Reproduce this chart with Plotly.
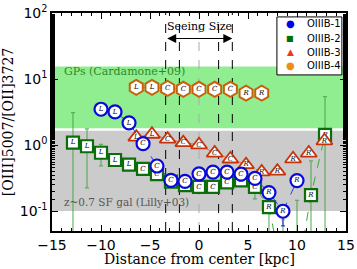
import plotly.graph_objects as go

# ---------------- data ----------------
b1_x = [-10.0, -8.57, -7.14, -5.71, -4.29, -2.86, -1.43, 0.0, 1.43, 2.86, 4.29, 5.71, 7.14, 8.57, 10.0]
b1_y = [3.49, 3.18, 2.17, 1.05, 0.482, 0.292, 0.282, 0.367, 0.389, 0.389, 0.363, 0.313, 0.191, 0.0996, 0.290]
b1_lab = ["L", "L", "L", "C", "C", "C", "C", "C", "C", "C", "C", "C", "R", "R", "R"]
b1_ep = [0.1, 0.1, 0.1, 0.03, 0.02, 0.01, 0.01, 0.01, 0.01, 0.01, 0.01, 0.01, 0.01, 0.01, 0.02]
b1_em = [0.1, 0.1, 0.1, 0.03, 0.02, 0.01, 0.01, 0.01, 0.01, 0.01, 0.01, 0.01, 0.02, 0.04, 0.02]

# the two points at 8.57 and 10 kpc lie below the plotted range (only their error bars show)
b2_x = [-12.86, -11.43, -10.0, -8.57, -7.14, -5.71, -4.29, -2.86, -1.43, 0.0, 1.43, 2.86, 4.29, 5.71, 7.14, 8.57, 10.0, 11.43, 12.86]
b2_y = [1.09, 0.96, 0.766, 0.594, 0.505, 0.435, 0.363, 0.279, 0.248, 0.233, 0.233, 0.273, 0.292, 0.233, 0.115, 0.01, 0.01, 0.175, 1.43]
b2_lab = ["L", "L", "L", "L", "L", "C", "C", "C", "C", "C", "C", "C", "C", "C", "R", "", "", "R", "R"]
b2_ep = [2.0, 0.8, 0.26, 0.03, 0.03, 0.03, 0.03, 0.03, 0.02, 0.02, 0.02, 0.03, 0.03, 0.02, 0.01, 0.064, 0.135, 0.40, 4.0]
b2_em = [1.08, 0.735, 0.28, 0.05, 0.03, 0.03, 0.03, 0.03, 0.02, 0.04, 0.03, 0.03, 0.04, 0.08, 0.11, 0.005, 0.005, 0.17, 1.42]

b3_x = [-6.4, -4.8, -3.2, -1.6, 0.0, 1.6, 3.2, 4.8, 6.4, 8.0, 9.6, 11.2, 12.8]
b3_y = [1.32, 1.46, 1.23, 1.09, 1.01, 0.757, 0.615, 0.505, 0.392, 0.403, 0.62, 0.757, 1.16]
b3_lab = ["L", "L", "C", "C", "C", "C", "C", "R", "R", "R", "R", "R", "R"]

b4_x = [-6.4, -4.8, -3.2, -1.6, 0.0, 1.6, 3.2, 4.8, 6.4]
b4_y = [7.5, 7.5, 7.2, 7.0, 7.0, 7.0, 7.0, 6.1, 6.1]
b4_lab = ["L", "L", "C", "C", "C", "C", "C", "R", "R"]
b4_em = [0.9, 0.1, 0.1, 0.1, 0.1, 0.1, 0.1, 0.1, 0.1]

legend_names = ["OIIIB-1", "OIIIB-2", "OIIIB-3", "OIIIB-4"]

seeing_inner = 2.0
seeing_outer = 3.4

gp_band = (1.8, 15.5)
sf_band = (0.1, 1.65)

# ---------------- figure ----------------
fig = go.Figure()

lab_font = dict(family="DejaVu Serif", size=7, color="black", style="italic")


def series(x, y, lab, sym, size, edge, lw, linecol, ep=None, em=None, ecol=None):
    err = None
    if ep is not None or em is not None:
        err = dict(type="data", symmetric=False,
                   array=ep if ep is not None else [0] * len(x),
                   arrayminus=em if em is not None else [0] * len(x),
                   color=ecol, thickness=1.2, width=2)
    fig.add_trace(go.Scatter(
        x=x, y=y, text=lab, mode="lines+markers+text",
        textposition="middle center", textfont=lab_font,
        line=dict(color=linecol, width=1, dash="dash"),
        marker=dict(symbol=sym, size=size, color="white",
                    line=dict(color=edge, width=lw)),
        error_y=err, showlegend=False, hoverinfo="skip"))


series(b2_x, b2_y, b2_lab, "square", 12, "#0b6e0b", 2.2, "#3aa83a",
       b2_ep, b2_em, "rgba(60,160,60,0.75)")
series(b3_x, b3_y, b3_lab, "triangle-up", 14, "#c8320a", 1.8, "#f06a3a")
series(b4_x, b4_y, b4_lab, "hexagon", 15, "#c8600a", 2.0, "#e07a20",
       None, b4_em, "#e88a20")
series(b1_x, b1_y, b1_lab, "circle", 13, "#0a0ad8", 2.2, "#3040e0",
       b1_ep, b1_em, "#3040e0")

shapes = [
    dict(type="rect", xref="paper", yref="y", x0=0, x1=1,
         y0=gp_band[0], y1=gp_band[1], fillcolor="#90ee90",
         line=dict(width=0), layer="below"),
    dict(type="rect", xref="paper", yref="y", x0=0, x1=1,
         y0=sf_band[0], y1=sf_band[1], fillcolor="#cbcbcb",
         line=dict(width=0), layer="below"),
]
for xv in [-seeing_outer, -seeing_inner, seeing_inner, seeing_outer]:
    shapes.append(dict(type="line", xref="x", yref="paper", x0=xv, x1=xv,
                       y0=0, y1=1, line=dict(color="black", width=1, dash="dash"),
                       layer="below"))
shapes.append(dict(type="line", xref="x", yref="paper", x0=0, x1=0, y0=0, y1=1,
                   line=dict(color="#aaaaaa", width=1, dash="dash"), layer="below"))

# legend box (drawn manually to match the compact reference legend)
shapes.append(dict(type="rect", xref="paper", yref="paper", x0=0.765, x1=0.986,
                   y0=0.716, y1=0.982, fillcolor="white",
                   line=dict(color="black", width=1), layer="above"))

annotations = [
    dict(x=seeing_outer, y=1.614, ax=-seeing_outer, ay=1.614, xref="x", yref="y",
         axref="x", ayref="y", showarrow=True, arrowside="end+start",
         arrowhead=2, arrowsize=1.5, arrowwidth=1.2, arrowcolor="black", text=""),
    dict(x=0, y=1.80, xref="x", yref="y", text="Seeing Size", showarrow=False,
         font=dict(family="DejaVu Serif", size=11, color="black")),
    dict(x=-14.0, y=1.107, xref="x", yref="y", text="GPs (Cardamone+09)",
         showarrow=False, xanchor="left",
         font=dict(family="DejaVu Serif", size=11, color="#2a8a2a")),
    dict(x=-14.0, y=-0.866, xref="x", yref="y", text="z~0.7 SF gal (Lilly+03)",
         showarrow=False, xanchor="left",
         font=dict(family="DejaVu Serif", size=10.5, color="#555555")),
    # x-axis title
    dict(x=0.5, y=0, xref="paper", yref="paper", yanchor="top", yshift=-18,
         text="Distance from center [kpc]", showarrow=False,
         font=dict(family="DejaVu Serif", size=14, color="black")),
]

leg_cols = ["#0000ee", "#007000", "#ee3a10", "#f08c1c"]
leg_glyph = ["●", "■", "▲", "●"]
leg_gsize = [10, 8, 9, 10]
leg_y = [0.950, 0.885, 0.821, 0.757]
for name, col, g, gs, yy in zip(legend_names, leg_cols, leg_glyph, leg_gsize, leg_y):
    annotations.append(dict(x=0.810, y=yy, xref="paper", yref="paper", text=g,
                            showarrow=False, xanchor="center", yanchor="middle",
                            font=dict(family="DejaVu Sans", size=gs, color=col)))
    annotations.append(dict(x=0.862, y=yy, xref="paper", yref="paper", text=name,
                            showarrow=False, xanchor="left", yanchor="middle",
                            font=dict(family="DejaVu Sans", size=10, color="black")))

axis_common = dict(showline=True, linecolor="black", linewidth=1.5, mirror="ticks",
                   ticks="inside", ticklen=6, tickwidth=1, tickcolor="black",
                   showgrid=False, zeroline=False, automargin=False,
                   tickfont=dict(family="DejaVu Sans", size=14, color="black"))

fig.update_layout(
    width=357, height=269,
    margin=dict(l=52, r=11, t=13, b=38),
    paper_bgcolor="white", plot_bgcolor="white",
    shapes=shapes, annotations=annotations,
    xaxis=dict(range=[-15, 15], dtick=5, tick0=0,
               minor=dict(ticks="inside", ticklen=3, dtick=1, tickcolor="black"),
               **axis_common),
    yaxis=dict(type="log", range=[-1.301, 2],
               tickvals=[0.1, 1, 10, 100],
               ticktext=["10<sup>-1</sup>", "10<sup>0</sup>", "10<sup>1</sup>", "10<sup>2</sup>"],
               minor=dict(ticks="inside", ticklen=3, tickcolor="black"),
               title=dict(text="[OIII]5007/[OII]3727", standoff=6,
                          font=dict(family="DejaVu Serif", size=14, color="black")),
               **axis_common),
    showlegend=False,
)

fig.write_html("out.html", config={"displayModeBar": False},
               post_script="document.body.style.margin='0';document.body.style.overflow='hidden';")
